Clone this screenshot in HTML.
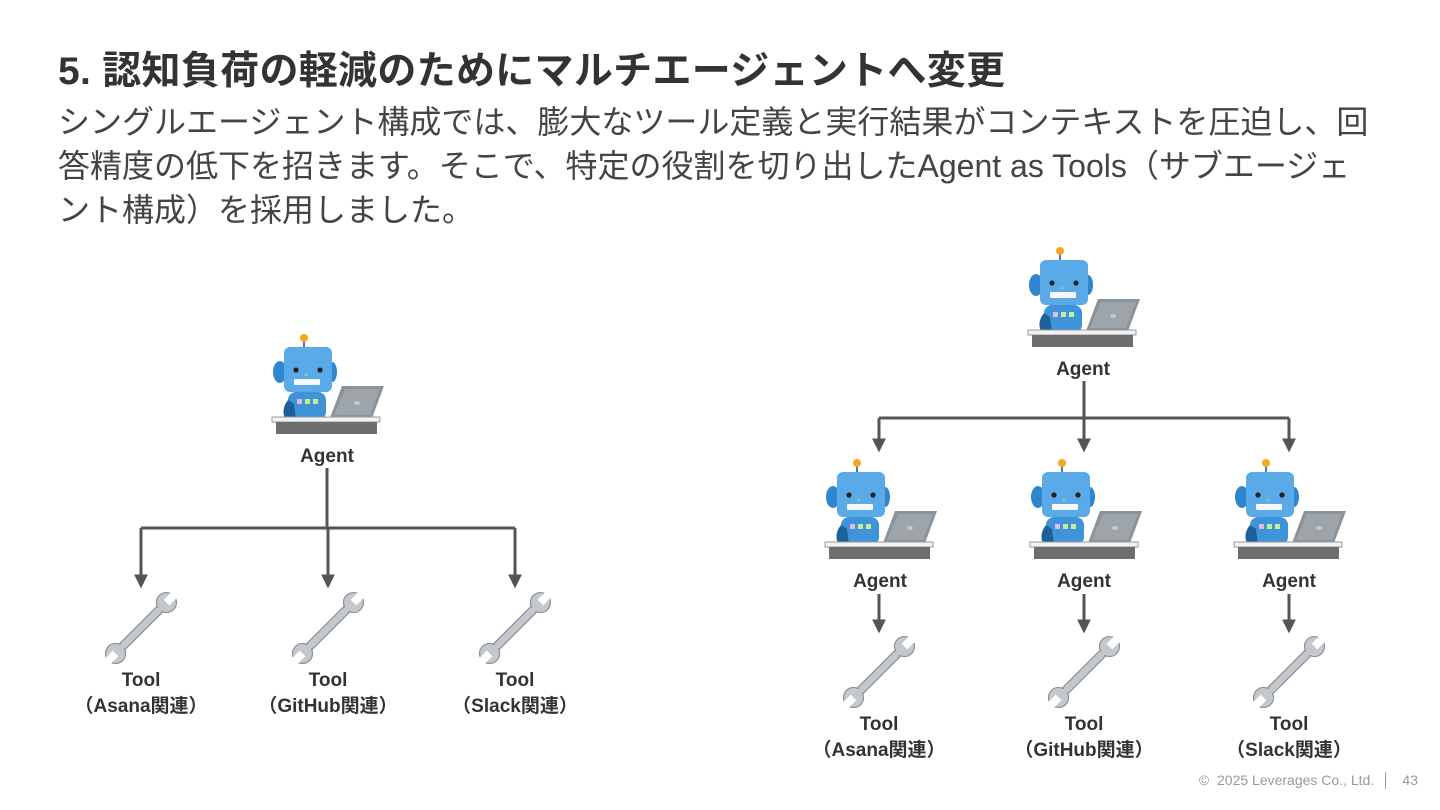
<!DOCTYPE html>
<html><head><meta charset="utf-8"><style>
html,body{margin:0;padding:0;background:#fff;}
body{width:1440px;height:810px;position:relative;overflow:hidden;font-family:"Liberation Sans","Noto Sans CJK JP",sans-serif;color:#333;}
.t{position:absolute;left:58px;top:40px;font-size:39px;font-weight:bold;white-space:nowrap;letter-spacing:0.3px}
.b{position:absolute;left:58px;top:100px;font-size:32px;line-height:44px;white-space:nowrap;color:#444}
.f{position:absolute;right:22px;top:772px;font-size:14px;color:#999;}
svg{position:absolute;left:0;top:0}
</style></head><body>
<div class="t">5. 認知負荷の軽減のためにマルチエージェントへ変更</div>
<div class="b">シングルエージェント構成では、膨大なツール定義と実行結果がコンテキストを圧迫し、回<br>答精度の低下を招きます。そこで、特定の役割を切り出したAgent as Tools（サブエージェ<br>ント構成）を採用しました。</div>
<div class="f">©&nbsp; 2025 Leverages Co., Ltd. &nbsp;│&nbsp;&nbsp; 43</div>
<svg width="1440" height="810" viewBox="0 0 1440 810">
<defs>
<g id="robot">
<line x1="304" y1="338" x2="304" y2="350" stroke="#3b7fc0" stroke-width="2"/>
<circle cx="304" cy="338" r="4" fill="#f5a623"/>
<ellipse cx="280" cy="372" rx="7" ry="11" fill="#2f86cf"/>
<ellipse cx="332" cy="372" rx="5" ry="10" fill="#2f86cf"/>
<rect x="288" y="392" width="38" height="28" rx="8" fill="#3f93d8"/>
<path d="M288 400 Q280 410 286 420 L296 420 L294 404Z" fill="#1f5f9a"/>
<rect x="297" y="399" width="5" height="5" fill="#e6b8e8"/>
<rect x="305" y="399" width="5" height="5" fill="#c8ee9a"/>
<rect x="313" y="399" width="5" height="5" fill="#c8ee9a"/>
<rect x="284" y="347" width="48" height="45" rx="6" fill="#5aaae8"/>
<circle cx="296" cy="370" r="2.6" fill="#222"/>
<circle cx="320" cy="370" r="2.6" fill="#222"/>
<path d="M306 373 l2 3 l-4 0z" fill="#8fd16a"/>
<rect x="294" y="379" width="26" height="6" rx="1" fill="#f4f8fb"/>
<polygon points="342,386 384,386 372,418 330,418" fill="#8b9298"/>
<polygon points="345,389 380,389 370,415 334,415" fill="#9da4aa"/>
<ellipse cx="357" cy="403" rx="3" ry="2" fill="#c4c9cc"/>
<rect x="272" y="417" width="108" height="5" fill="#f2f2f2" stroke="#999" stroke-width="1"/>
<rect x="276" y="422" width="101" height="12" fill="#6e6e6e"/>
</g>
<g id="wrench">
<g transform="rotate(-45)">
<rect x="-30" y="-4" width="60" height="8" rx="2" fill="#c4c8cc" stroke="#8a9096" stroke-width="1.2"/>
<circle cx="-36" cy="0" r="10" fill="#c4c8cc" stroke="#8a9096" stroke-width="1.2"/>
<rect x="-50" y="-4" width="14" height="8" fill="#fff"/>
<circle cx="36" cy="0" r="10" fill="#c4c8cc" stroke="#8a9096" stroke-width="1.2"/>
<rect x="36" y="-4" width="14" height="8" fill="#fff"/>
<rect x="-28" y="-2.5" width="56" height="5" fill="#c4c8cc"/>
</g>
</g>
<marker id="ar" markerWidth="14" markerHeight="14" refX="10" refY="6" orient="auto" markerUnits="userSpaceOnUse" viewBox="0 0 12 12"><path d="M0 0 L12 6 L0 12Z" fill="#555"/></marker>
</defs>
<g fill="none" stroke="#555" stroke-width="3">
<path d="M327 468 V528 M141 528 H515"/>
<path d="M141 528 V586" marker-end="url(#ar)"/>
<path d="M328 528 V586" marker-end="url(#ar)"/>
<path d="M515 528 V586" marker-end="url(#ar)"/>
<path d="M1084 381 V418 M879 418 H1289"/>
<path d="M879 418 V450" marker-end="url(#ar)"/>
<path d="M1084 418 V450" marker-end="url(#ar)"/>
<path d="M1289 418 V450" marker-end="url(#ar)"/>
<path d="M879 594 V631" marker-end="url(#ar)"/>
<path d="M1084 594 V631" marker-end="url(#ar)"/>
<path d="M1289 594 V631" marker-end="url(#ar)"/>
</g>
<use href="#robot"/>
<use href="#robot" transform="translate(756,-87)"/>
<use href="#robot" transform="translate(553,125)"/>
<use href="#robot" transform="translate(758,125)"/>
<use href="#robot" transform="translate(962,125)"/>
<use href="#wrench" transform="translate(141,628)"/>
<use href="#wrench" transform="translate(328,628)"/>
<use href="#wrench" transform="translate(515,628)"/>
<use href="#wrench" transform="translate(879,672)"/>
<use href="#wrench" transform="translate(1084,672)"/>
<use href="#wrench" transform="translate(1289,672)"/>
<g font-family="Liberation Sans, Noto Sans CJK JP, sans-serif" font-weight="bold" font-size="19" fill="#333" text-anchor="middle">
<text x="327" y="462">Agent</text>
<text x="1083" y="375">Agent</text>
<text x="880" y="587">Agent</text>
<text x="1084" y="587">Agent</text>
<text x="1289" y="587">Agent</text>
<text x="141" y="686">Tool</text><text x="141" y="712">（Asana関連）</text>
<text x="328" y="686">Tool</text><text x="328" y="712">（GitHub関連）</text>
<text x="515" y="686">Tool</text><text x="515" y="712">（Slack関連）</text>
<text x="879" y="730">Tool</text><text x="879" y="756">（Asana関連）</text>
<text x="1084" y="730">Tool</text><text x="1084" y="756">（GitHub関連）</text>
<text x="1289" y="730">Tool</text><text x="1289" y="756">（Slack関連）</text>
</g>
</svg>
</body></html>
